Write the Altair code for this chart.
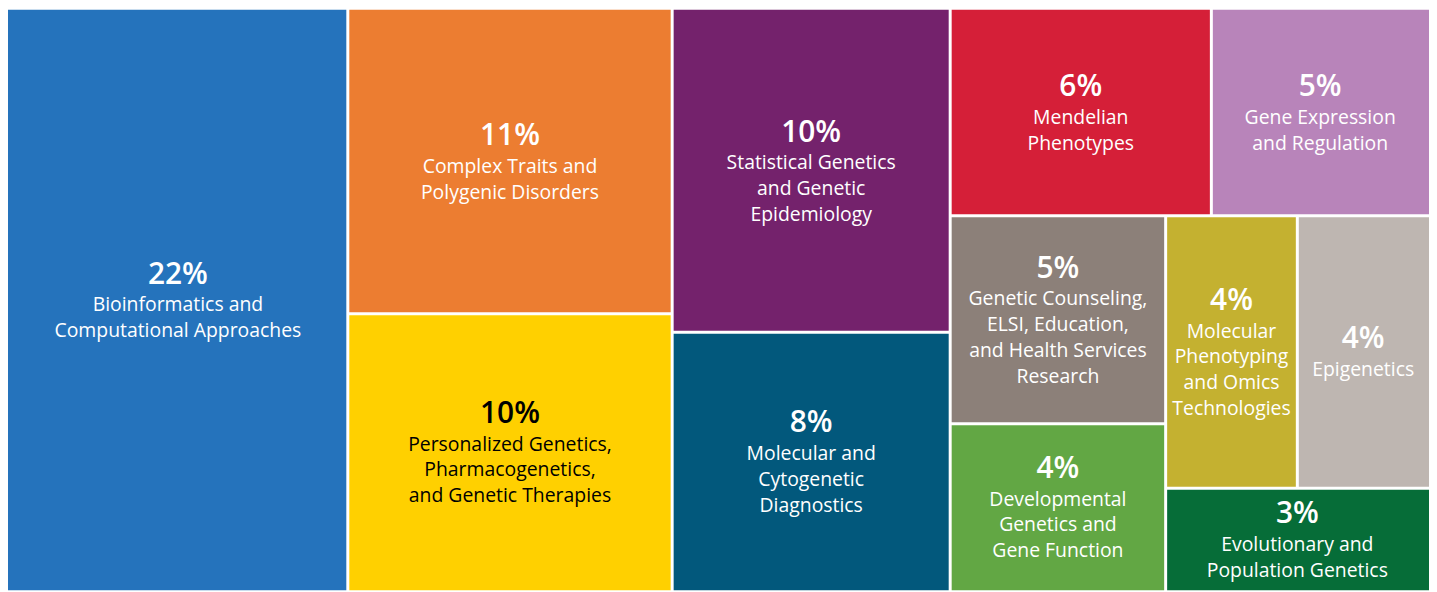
import altair as alt
import pandas as pd

# ---- data ----
names = [
    "Bioinformatics and Computational Approaches",
    "Complex Traits and Polygenic Disorders",
    "Personalized Genetics, Pharmacogenetics, and Genetic Therapies",
    "Statistical Genetics and Genetic Epidemiology",
    "Molecular and Cytogenetic Diagnostics",
    "Mendelian Phenotypes",
    "Gene Expression and Regulation",
    "Genetic Counseling, ELSI, Education, and Health Services Research",
    "Developmental Genetics and Gene Function",
    "Molecular Phenotyping and Omics Technologies",
    "Epigenetics",
    "Evolutionary and Population Genetics",
]
percents = [22, 11, 10, 10, 8, 6, 5, 5, 4, 4, 4, 3]
label_lines = [
    ["Bioinformatics and", "Computational Approaches"],
    ["Complex Traits and", "Polygenic Disorders"],
    ["Personalized Genetics,", "Pharmacogenetics,", "and Genetic Therapies"],
    ["Statistical Genetics", "and Genetic", "Epidemiology"],
    ["Molecular and", "Cytogenetic", "Diagnostics"],
    ["Mendelian", "Phenotypes"],
    ["Gene Expression", "and Regulation"],
    ["Genetic Counseling,", "ELSI, Education,", "and Health Services", "Research"],
    ["Developmental", "Genetics and", "Gene Function"],
    ["Molecular", "Phenotyping", "and Omics", "Technologies"],
    ["Epigenetics"],
    ["Evolutionary and", "Population Genetics"],
]
colors = ["#2573BC", "#EC7D31", "#FFD000", "#74226C", "#02587C", "#D51F38",
          "#B884BA", "#8C8079", "#62A744", "#C4B130", "#BEB6B1", "#066D38"]
text_colors = ["white", "white", "black", "white", "white", "white",
               "white", "white", "white", "white", "white", "white"]

W, H = 1429, 584
FONT = "Open Sans"
PCT_SIZE, LBL_SIZE = 30, 19.5
LINE_H, PCT_GAP, CAP = 26, 28, 21
GAP = 1.5


def squarify(values, x0, y0, x1, y1, ratio):
    """d3-style squarified treemap layout."""
    n = len(values)
    rects = [None] * n
    value = float(sum(values))
    i0 = i1 = 0
    while i0 < n:
        dx, dy = x1 - x0, y1 - y0
        s = values[i1]
        i1 += 1
        mn = mx = s
        alpha = max(dy / dx, dx / dy) / (value * ratio)
        beta = s * s * alpha
        min_ratio = max(mx / beta, beta / mn)
        while i1 < n:
            v = values[i1]
            s2 = s + v
            mn2, mx2 = min(mn, v), max(mx, v)
            beta = s2 * s2 * alpha
            new_ratio = max(mx2 / beta, beta / mn2)
            if new_ratio > min_ratio:
                break
            s, mn, mx, min_ratio = s2, mn2, mx2, new_ratio
            i1 += 1
        row = range(i0, i1)
        if dx < dy:
            ny = y0 + dy * s / value
            xx = x0
            for i in row:
                w = dx * values[i] / s
                rects[i] = (xx, y0, xx + w, ny)
                xx += w
            y0 = ny
        else:
            nx = x0 + dx * s / value
            yy = y0
            for i in row:
                h = dy * values[i] / s
                rects[i] = (x0, yy, nx, yy + h)
                yy += h
            x0 = nx
        value -= s
        i0 = i1
    return rects


rects = squarify(percents, 0, 0, W, H, 1.15)


def inset(r):
    a, b, c, d = r
    return (a + (GAP if a > 0.5 else 0), b + (GAP if b > 0.5 else 0),
            c - (GAP if c < W - 0.5 else 0), d - (GAP if d < H - 0.5 else 0))


cells_r = [inset(r) for r in rects]
cells = pd.DataFrame({
    "name": names,
    "x0": [r[0] for r in cells_r], "y0": [r[1] for r in cells_r],
    "x1": [r[2] for r in cells_r], "y1": [r[3] for r in cells_r],
})

rows = []
for i, (r, p, lines) in enumerate(zip(rects, percents, label_lines)):
    cx = (r[0] + r[2]) / 2
    cy = (r[1] + r[3]) / 2
    block = CAP + PCT_GAP + LINE_H * (len(lines) - 1)
    base = cy - block / 2 + CAP
    rows.append({"x": cx, "y": base, "text": f"{p}%", "kind": "pct", "tc": text_colors[i]})
    for k, ln in enumerate(lines):
        rows.append({"x": cx, "y": base + PCT_GAP + LINE_H * k, "text": ln,
                     "kind": "lbl", "tc": text_colors[i]})
texts = pd.DataFrame(rows)

xs = alt.Scale(domain=[0, W], nice=False, zero=False)
ys = alt.Scale(domain=[0, H], nice=False, zero=False, reverse=True)

rect = alt.Chart(cells).mark_rect().encode(
    x=alt.X("x0:Q", scale=xs, axis=None),
    x2="x1:Q",
    y=alt.Y("y0:Q", scale=ys, axis=None),
    y2="y1:Q",
    color=alt.Color("name:N", scale=alt.Scale(domain=names, range=colors), legend=None),
)

pct = alt.Chart(texts).transform_filter(alt.datum.kind == "pct").mark_text(
    font=FONT, fontSize=PCT_SIZE, fontWeight=600, align="center", baseline="alphabetic"
).encode(
    x=alt.X("x:Q", scale=xs, axis=None),
    y=alt.Y("y:Q", scale=ys, axis=None),
    text="text:N",
    color=alt.Color("tc:N", scale=None),
)

lbl = alt.Chart(texts).transform_filter(alt.datum.kind == "lbl").mark_text(
    font=FONT, fontSize=LBL_SIZE, align="center", baseline="alphabetic"
).encode(
    x=alt.X("x:Q", scale=xs, axis=None),
    y=alt.Y("y:Q", scale=ys, axis=None),
    text="text:N",
    color=alt.Color("tc:N", scale=None),
)

chart = alt.layer(rect, pct, lbl).properties(
    width=W, height=H, padding=0, autosize=alt.AutoSizeParams(type="none"),
    background="white",
).configure_view(stroke=None)

chart.save("out.html", embed_options={"renderer": "svg", "actions": False})
